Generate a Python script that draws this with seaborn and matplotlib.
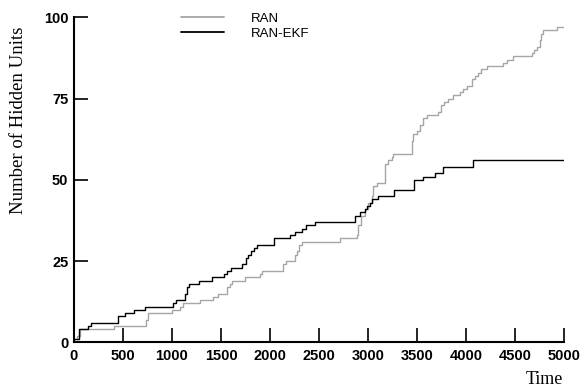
import matplotlib
matplotlib.use("Agg")
import matplotlib.pyplot as plt
import seaborn as sns
import pandas as pd

# RAN (gray) step points: time, hidden units
ran_t = [0, 30, 60, 411, 735, 760, 997, 1082, 1110, 1286, 1422, 1473, 1558, 1592, 1610,
         1745, 1898, 1920, 2136, 2163, 2255, 2279, 2300, 2323, 2714, 2884, 2900, 2929,
         2969, 3003, 3037, 3055, 3092, 3173, 3207, 3241, 3260, 3446, 3460, 3497, 3531,
         3565, 3599, 3718, 3740, 3776, 3820, 3871, 3939, 3973, 4007, 4058, 4090, 4120,
         4150, 4211, 4381, 4415, 4483, 4670, 4690, 4721, 4750, 4765, 4782, 4925, 5000]
ran_v = [1, 2, 4, 5, 7, 9, 10, 11, 12, 13, 14, 15, 17, 18, 19,
         20, 21, 22, 24, 25, 27, 28, 30, 31, 32, 33, 36, 39,
         41, 43, 45, 48, 49, 55, 56, 57, 58, 62, 64, 65, 67,
         69, 70, 71, 73, 74, 75, 76, 77, 78, 79, 81, 82, 83,
         84, 85, 86, 87, 88, 89, 90, 91, 93, 95, 96, 97, 97]

# RAN-EKF (black) step points
ekf_t = [0, 50, 146, 170, 452, 520, 615, 724, 1007, 1037, 1133, 1150, 1177, 1276, 1411,
         1531, 1560, 1602, 1718, 1750, 1775, 1810, 1840, 1870, 2041, 2204, 2255, 2323,
         2367, 2459, 2867, 2918, 2969, 2986, 3020, 3037, 3099, 3269, 3469, 3565, 3684,
         3769, 4075, 5000]
ekf_v = [1, 4, 5, 6, 8, 9, 10, 11, 12, 13, 15, 17, 18, 19, 20,
         21, 22, 23, 24, 26, 27, 28, 29, 30, 32, 33, 34, 35,
         36, 37, 39, 40, 41, 42, 43, 44, 45, 47, 50, 51, 52,
         54, 56, 56]

series_names = ["RAN", "RAN-EKF"]
x_ticks = [0, 500, 1000, 1500, 2000, 2500, 3000, 3500, 4000, 4500, 5000]
y_ticks = [0, 25, 50, 75, 100]

df = pd.concat([
    pd.DataFrame({"Time": ran_t, "Units": ran_v, "Series": series_names[0]}),
    pd.DataFrame({"Time": ekf_t, "Units": ekf_v, "Series": series_names[1]}),
], ignore_index=True)

sns.set_style("white")
plt.rcParams["font.family"] = ["Liberation Sans", "DejaVu Sans"]
plt.rcParams["text.color"] = "black"

fig = plt.figure(figsize=(5.84, 3.89), dpi=100)
ax = fig.add_axes([74/584, 1 - 342.3/389, 490/584, 325/389])

sns.lineplot(data=df, x="Time", y="Units", hue="Series",
             palette={"RAN": "#a6a6a6", "RAN-EKF": "#000000"},
             estimator=None, sort=False, drawstyle="steps-post",
             linewidth=1.0, ax=ax, legend=True)

ax.set_xlim(0, 5000)
ax.set_ylim(0, 100)
ax.set_xticks(x_ticks)
ax.set_yticks(y_ticks)
ax.set_xticklabels([str(t) for t in x_ticks], fontweight="bold", fontsize=10.5)
ax.set_yticklabels([str(t) for t in y_ticks], fontweight="bold", fontsize=10.5)
ax.tick_params(axis="both", direction="in", length=10, width=1.2, color="black",
               labelcolor="black", bottom=True, left=True, top=False, right=False)
ax.tick_params(axis="x", pad=5)
ax.tick_params(axis="y", pad=4)

for s in ["top", "right"]:
    ax.spines[s].set_visible(False)
for s in ["left", "bottom"]:
    ax.spines[s].set_linewidth(1.5)
    ax.spines[s].set_color("black")

ax.set_xlabel("")
ax.set_ylabel("")
fig.text(563/584, 1 - 379/389, "Time", family="Liberation Serif", fontsize=13,
         ha="right", va="center", color="black")
fig.text(19/584, 1 - 120/389, "Number of Hidden Units", family="Liberation Serif",
         fontsize=13.5, rotation=90, ha="center", va="center", color="black")

leg = ax.legend(loc="upper left", bbox_to_anchor=(169/584, 1 - 1/389),
                bbox_transform=fig.transFigure, frameon=False, fontsize=9.5,
                handlelength=3.3, handletextpad=2.0, labelspacing=0.2)
for line in leg.get_lines():
    line.set_linewidth(1.3)
for t in leg.get_texts():
    t.set_color("black")

fig.savefig("out.png", dpi=100, facecolor="white")
